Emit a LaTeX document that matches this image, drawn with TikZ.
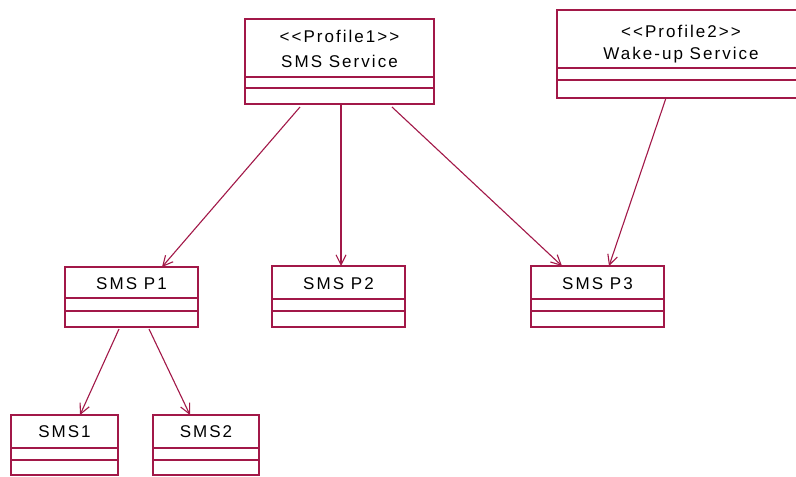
\documentclass[tikz,border=0pt]{standalone}
\usepackage{fontspec}
\newfontfamily\umlfont{Liberation Sans}[LetterSpace=12]
\usetikzlibrary{arrows.meta,calc}
\definecolor{uml}{RGB}{162,24,72}
\tikzset{
  cls/.style={draw=uml, line width=1.2pt, fill=white, anchor=north west, inner sep=0pt, outer sep=0pt},
  lbl/.style={font=\umlfont\fontsize{17}{20}\selectfont, text=black, inner sep=0pt},
  divline/.style={draw=uml, line width=1.2pt},
  dep/.style={draw=uml, line width=1.1pt, -{Straight Barb[length=10pt,width=10pt,line width=1.1pt]}}
}
\newcommand\umlclass[7]{%
  \node[cls, minimum width={#4-#2}, minimum height={#5-#3}] (#1) at (#2,#3) {};
  \draw[divline] (#2,#6) -- (#4,#6) (#2,#7) -- (#4,#7);
}
\begin{document}
\begin{tikzpicture}[x=1pt,y=-1pt]
\clip (0,0) rectangle (796,477);
\fill[white] (0,0) rectangle (796,477);

\umlclass{svc}{245}{19}{434}{104}{77}{88}
\node[lbl] (svcst) at (339.5,36.5) {<<Profile1>>};
\node[lbl] (svcnm) at (339.5,61.5) {SMS Service};

\umlclass{wake}{557}{10}{803}{98}{68}{80}
\node[lbl] (wakest) at (681,31) {<<Profile2>>};
\node[lbl] (wakenm) at (681,55) {Wake-up Service};

\umlclass{p1}{65}{267}{198}{327}{298}{311}
\node[lbl] (p1nm) at (131.5,284) {SMS P1};

\umlclass{p2}{272}{266}{405}{327}{299}{311}
\node[lbl] (p2nm) at (338.5,284) {SMS P2};

\umlclass{p3}{531}{266}{664}{327}{299}{311}
\node[lbl] (p3nm) at (597.5,284) {SMS P3};

\umlclass{s1}{11}{415}{118}{475}{448}{460}
\node[lbl] (s1nm) at (64.5,432) {SMS1};

\umlclass{s2}{153}{415}{259}{475}{448}{460}
\node[lbl] (s2nm) at (206,432) {SMS2};

\draw[dep] ([xshift=55pt,yshift=-3pt]svc.south west) -- ([xshift=97pt]p1.north west);
\draw[dep] ([xshift=96pt]svc.south west) -- ([xshift=69pt]p2.north west);
\draw[dep] ([xshift=147pt,yshift=-3pt]svc.south west) -- ([xshift=31pt]p3.north west);
\draw[dep] ([xshift=109pt]wake.south west) -- ([xshift=78pt]p3.north west);
\draw[dep] ([xshift=54pt,yshift=-2pt]p1.south west) -- ([xshift=69pt]s1.north west);
\draw[dep] ([xshift=84pt,yshift=-2pt]p1.south west) -- ([xshift=37pt]s2.north west);
\end{tikzpicture}
\end{document}
